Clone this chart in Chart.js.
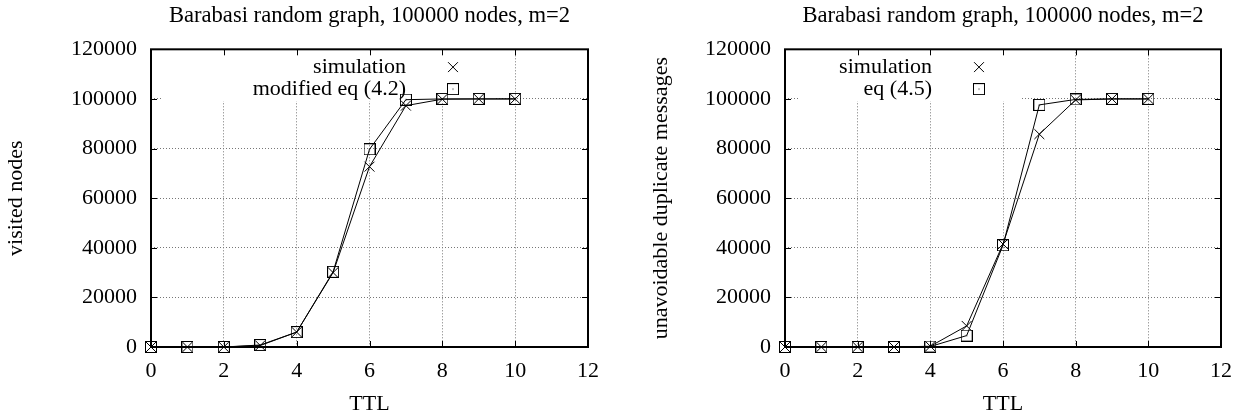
<!DOCTYPE html>
<html lang="en">
<head>
<meta charset="UTF-8">
<title>Barabasi random graph, 100000 nodes, m=2</title>
<script src="https://cdn.jsdelivr.net/npm/chart.js"></script>
<style>
    body {
        margin: 0;
        background: #ffffff;
    }
    #wrap {
        display: flex;
        width: 1247px;
        height: 418px;
    }
    canvas {
        display: block;
    }
</style>
</head>
<body>
<div id="wrap">
    <canvas id="leftChart" width="623" height="418"></canvas>
    <canvas id="rightChart" width="624" height="418"></canvas>
</div>
<script>
// TTL (x axis)
const ttl = [0, 1, 2, 3, 4, 5, 6, 7, 8, 9, 10];

// left panel: visited nodes
const visitedSimulation = [0, 0, 0, 600, 6000, 30000, 72700, 97300, 99900, 100000, 100000];
const visitedModifiedEq = [0, 0, 0, 800, 6000, 30300, 79700, 99700, 100000, 100000, 100000];

// right panel: unavoidable duplicate messages
const duplicateSimulation = [0, 0, 0, 0, 300, 8500, 41500, 85800, 99600, 100000, 100000];
const duplicateEq = [0, 0, 0, 0, 200, 4600, 41000, 97600, 99800, 100000, 100000];

// axis ticks
const xTickValues = [0, 2, 4, 6, 8, 10, 12];
const yTickValues = [0, 20000, 40000, 60000, 80000, 100000, 120000];

const chartTitle = "Barabasi random graph, 100000 nodes, m=2";

const serif = "'Liberation Serif', 'DejaVu Serif', serif";
Chart.defaults.font.family = serif;
Chart.defaults.font.size = 22;
Chart.defaults.color = '#000000';

// square marker with the little centre dot (gnuplot style)
function squareMarker() {
    const c = document.createElement('canvas');
    c.width = 12;
    c.height = 12;
    const g = c.getContext('2d');
    g.strokeStyle = '#000000';
    g.lineWidth = 1;
    g.strokeRect(0.5, 0.5, 11, 11);
    g.fillStyle = '#000000';
    g.fillRect(5.5, 5.5, 1, 1);
    return c;
}
const squareStyle = squareMarker();

// white key box behind the legend, drawn over the grid
const keyBoxPlugin = {
    id: 'keyBox',
    beforeDatasetsDraw(chart, args, opts) {
        const a = chart.chartArea;
        const ctx = chart.ctx;
        ctx.save();
        ctx.fillStyle = '#ffffff';
        ctx.fillRect(a.left + opts.boxLeft, a.top + 1, opts.boxRight - opts.boxLeft, opts.boxBottom);
        ctx.restore();
    },
    afterDatasetsDraw(chart, args, opts) {
        const a = chart.chartArea;
        const ctx = chart.ctx;
        ctx.save();
        ctx.font = '22px ' + serif;
        ctx.fillStyle = '#000000';
        ctx.strokeStyle = '#000000';
        ctx.textAlign = 'right';
        ctx.textBaseline = 'middle';
        chart.data.datasets.forEach((ds, i) => {
            const yy = a.top + opts.rows[i];
            ctx.fillText(ds.label, a.left + opts.textRight, yy);
            Chart.helpers.drawPoint(ctx, {
                pointStyle: ds.pointStyle,
                radius: ds.pointRadius,
                rotation: 0,
                borderWidth: 1
            }, a.left + opts.sampleX, yy);
        });
        ctx.restore();
    }
};

// gnuplot-like frame with inward ticks on all four sides
const framePlugin = {
    id: 'frame',
    afterDatasetsDraw(chart) {
        const a = chart.chartArea;
        const ctx = chart.ctx;
        const xs = chart.scales.x;
        const ys = chart.scales.y;
        const len = 6;
        ctx.save();
        ctx.strokeStyle = '#000000';
        ctx.lineWidth = 1;
        ctx.beginPath();
        xs.ticks.forEach(t => {
            const px = Math.round(xs.getPixelForValue(t.value)) + 0.5;
            ctx.moveTo(px, a.bottom);
            ctx.lineTo(px, a.bottom - len);
            ctx.moveTo(px, a.top);
            ctx.lineTo(px, a.top + len);
        });
        ys.ticks.forEach(t => {
            const py = Math.round(ys.getPixelForValue(t.value)) + 0.5;
            ctx.moveTo(a.left, py);
            ctx.lineTo(a.left + len, py);
            ctx.moveTo(a.right, py);
            ctx.lineTo(a.right - len, py);
        });
        ctx.stroke();
        ctx.lineWidth = 2;
        ctx.strokeRect(a.left, a.top, a.right - a.left, a.bottom - a.top);
        ctx.restore();
    }
};

function makeChart(id, cfg) {
    const ctx = document.getElementById(id).getContext('2d');
    return new Chart(ctx, {
        type: 'line',
        data: {
            datasets: [
                {
                    label: 'simulation',
                    data: ttl.map((t, i) => ({x: t, y: cfg.simulation[i]})),
                    borderColor: '#000000',
                    borderWidth: 1,
                    pointStyle: 'crossRot',
                    pointRadius: 7,
                    pointBorderColor: '#000000',
                    pointBorderWidth: 1,
                    tension: 0,
                    fill: false,
                    clip: false
                },
                {
                    label: cfg.eqLabel,
                    data: ttl.map((t, i) => ({x: t, y: cfg.equation[i]})),
                    borderColor: '#000000',
                    borderWidth: 1,
                    pointStyle: squareStyle,
                    pointRadius: 6,
                    pointBorderColor: '#000000',
                    pointBorderWidth: 1,
                    tension: 0,
                    fill: false,
                    clip: false
                }
            ]
        },
        options: {
            responsive: false,
            animation: false,
            events: [],
            layout: {
                padding: {left: 0, right: cfg.rightPad, top: 0, bottom: 0}
            },
            plugins: {
                legend: {display: false},
                tooltip: {enabled: false},
                title: {
                    display: true,
                    text: chartTitle,
                    fullSize: false,
                    color: '#000000',
                    font: {family: serif, size: 22.6, weight: 'normal'},
                    padding: {top: 2.2, bottom: 20}
                },
                keyBox: cfg.key
            },
            scales: {
                x: {
                    type: 'linear',
                    min: 0,
                    max: 12,
                    afterBuildTicks: s => { s.ticks = xTickValues.map(v => ({value: v})); },
                    afterFit: s => { s.height = 71; },
                    grid: {
                        color: '#777777',
                        lineWidth: 1,
                        drawTicks: false
                    },
                    border: {display: false, dash: [1, 2]},
                    ticks: {
                        padding: 11,
                        maxRotation: 0,
                        callback: v => String(v)
                    },
                    title: {
                        display: true,
                        text: 'TTL',
                        padding: {top: 0, bottom: 1}
                    }
                },
                y: {
                    type: 'linear',
                    min: 0,
                    max: 120000,
                    afterBuildTicks: s => { s.ticks = yTickValues.map(v => ({value: v})); },
                    afterFit: s => { s.width = cfg.axisWidth; },
                    grid: {
                        color: '#777777',
                        lineWidth: 1,
                        drawTicks: false
                    },
                    border: {display: false, dash: [1, 2]},
                    ticks: {
                        padding: 14,
                        callback: v => String(v)
                    },
                    title: {
                        display: true,
                        text: cfg.yTitle,
                        padding: {top: cfg.yTitlePad, bottom: 0}
                    }
                }
            }
        },
        plugins: [keyBoxPlugin, framePlugin]
    });
}

makeChart('leftChart', {
    simulation: visitedSimulation,
    equation: visitedModifiedEq,
    eqLabel: 'modified eq (4.2)',
    yTitle: 'visited nodes',
    axisWidth: 151,
    rightPad: 35,
    yTitlePad: 3.4,
    key: {boxLeft: 12, boxRight: 343, boxBottom: 51, textRight: 255, sampleX: 302, rows: [17.8, 39.8]}
});

makeChart('rightChart', {
    simulation: duplicateSimulation,
    equation: duplicateEq,
    eqLabel: 'eq (4.5)',
    yTitle: 'unavoidable duplicate messages',
    axisWidth: 162,
    rightPad: 26,
    yTitlePad: 25.4,
    key: {boxLeft: 15, boxRight: 235, boxBottom: 51, textRight: 147, sampleX: 194, rows: [17.8, 39.8]}
});
</script>
</body>
</html>
